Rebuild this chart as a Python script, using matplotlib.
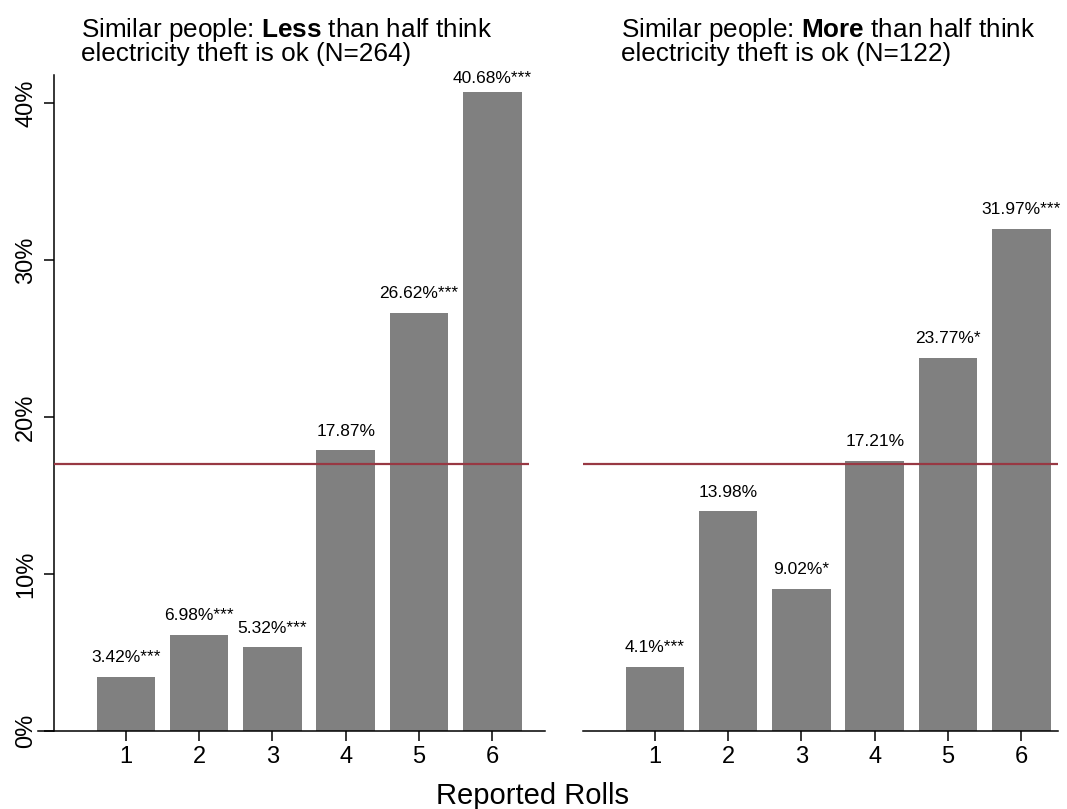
import matplotlib
matplotlib.use("Agg")
import matplotlib.pyplot as plt

plt.rcParams['font.family'] = ['Liberation Sans', 'DejaVu Sans']
plt.rcParams['mathtext.fontset'] = 'custom'
plt.rcParams['mathtext.rm'] = 'Liberation Sans'
plt.rcParams['mathtext.bf'] = 'Liberation Sans:bold'

# data
rolls = [1, 2, 3, 4, 5, 6]
less_heights = [3.42, 6.1, 5.32, 17.87, 26.62, 40.68]
less_labels = ['3.42%***', '6.98%***', '5.32%***', '17.87%', '26.62%***', '40.68%***']
more_heights = [4.1, 13.98, 9.02, 17.21, 23.77, 31.97]
more_labels = ['4.1%***', '13.98%', '9.02%*', '17.21%', '23.77%*', '31.97%***']
reference = 17.0
yticks = [0, 10, 20, 30, 40]
titles = [r"Similar people: $\mathbf{Less}$ than half think" + "\nelectricity theft is ok (N=264)",
          r"Similar people: $\mathbf{More}$ than half think" + "\nelectricity theft is ok (N=122)"]

W, H = 1067, 809
bar_col = '#808080'
red = '#983843'
ymax = 41.78

fig = plt.figure(figsize=(W / 100, H / 100), dpi=100)
axL = fig.add_axes([54 / W, 1 - 731 / H, 491 / W, 656 / H])
axR = fig.add_axes([583 / W, 1 - 731 / H, 475 / W, 656 / H])


def draw_panel(ax, heights, labels, xlim):
    ax.bar(rolls, heights, width=0.8, color=bar_col, zorder=2)
    ax.hlines(reference, 0.02, 6.5, color=red, lw=1.6, zorder=3)
    for x, h, lab in zip(rolls, heights, labels):
        ax.text(x, min(h + 0.95, 41.3), lab, ha='center', va='baseline', fontsize=12.5)
    ax.set_xlim(*xlim)
    ax.set_ylim(0, ymax)
    ax.set_xticks(rolls)
    ax.tick_params(axis='x', length=7, width=1.1, labelsize=17, pad=4)
    for s in ['top', 'right']:
        ax.spines[s].set_visible(False)
    ax.spines['bottom'].set_linewidth(1.1)
    ax.spines['left'].set_linewidth(1.1)


draw_panel(axL, less_heights, less_labels, (0.02, 6.72))
draw_panel(axR, more_heights, more_labels, (0.02, 6.5))

axL.set_yticks(yticks)
axL.set_yticklabels([f"{v}%" for v in yticks], rotation=90, va='center')
axL.tick_params(axis='y', length=7, width=1.1, labelsize=17, pad=5)
axL.spines['bottom'].set_bounds(0.02 - 16 / 73.3, 6.72)

axR.spines['left'].set_visible(False)
axR.set_yticks([])

for t, x0 in zip(titles, [81, 621]):
    fig.text(x0 / W, 1 - 66 / H, t, fontsize=18.8, ha='left', va='bottom',
             linespacing=0.9)

fig.text(533 / W, 1 - 804 / H, "Reported Rolls", fontsize=21, ha='center', va='baseline')

fig.savefig("out.png", dpi=100)
